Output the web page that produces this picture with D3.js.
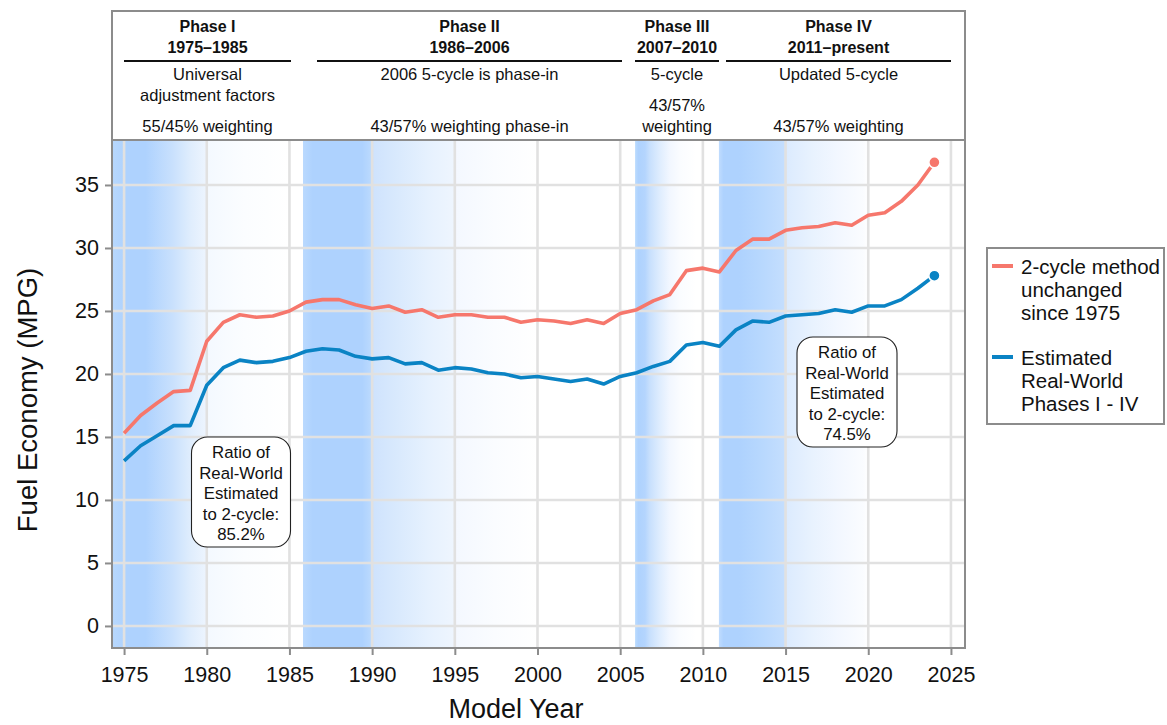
<!DOCTYPE html>
<html>
<head>
<meta charset="utf-8">
<script src="https://cdn.jsdelivr.net/npm/d3@7"></script>
<style>
  html, body { margin: 0; padding: 0; background: #ffffff; }
  svg { display: block; font-family: "Liberation Sans", Arial, Helvetica, sans-serif; }
</style>
</head>
<body>
<svg id="chart" width="1167" height="725"></svg>
<script>
// ---- Data -----------------------------------------------------------------
const modelYears = [
  1975, 1976, 1977, 1978, 1979, 1980, 1981, 1982, 1983, 1984,
  1985, 1986, 1987, 1988, 1989, 1990, 1991, 1992, 1993, 1994,
  1995, 1996, 1997, 1998, 1999, 2000, 2001, 2002, 2003, 2004,
  2005, 2006, 2007, 2008, 2009, 2010, 2011, 2012, 2013, 2014,
  2015, 2016, 2017, 2018, 2019, 2020, 2021, 2022, 2023, 2024
];

// 2-cycle method, unchanged since 1975 (MPG)
const twoCycleMpg = [
  15.3, 16.7, 17.7, 18.6, 18.7, 22.6, 24.1, 24.7, 24.5, 24.6,
  25.0, 25.7, 25.9, 25.9, 25.5, 25.2, 25.4, 24.9, 25.1, 24.5,
  24.7, 24.7, 24.5, 24.5, 24.1, 24.3, 24.2, 24.0, 24.3, 24.0,
  24.8, 25.1, 25.8, 26.3, 28.2, 28.4, 28.1, 29.8, 30.7, 30.7,
  31.4, 31.6, 31.7, 32.0, 31.8, 32.6, 32.8, 33.7, 35.0, 36.8
];

// Estimated real-world, Phases I - IV (MPG)
const realWorldMpg = [
  13.1, 14.3, 15.1, 15.9, 15.9, 19.1, 20.5, 21.1, 20.9, 21.0,
  21.3, 21.8, 22.0, 21.9, 21.4, 21.2, 21.3, 20.8, 20.9, 20.3,
  20.5, 20.4, 20.1, 20.0, 19.7, 19.8, 19.6, 19.4, 19.6, 19.2,
  19.8, 20.1, 20.6, 21.0, 22.3, 22.5, 22.2, 23.5, 24.2, 24.1,
  24.6, 24.7, 24.8, 25.1, 24.9, 25.4, 25.4, 25.9, 26.8, 27.8
];

const seriesNames = ["2-cycle method unchanged since 1975", "Estimated Real-World Phases I - IV"];

const xTickYears = [1975, 1980, 1985, 1990, 1995, 2000, 2005, 2010, 2015, 2020, 2025];
const yTickValues = [0, 5, 10, 15, 20, 25, 30, 35];

// Test-procedure phases shown in the header
const phaseTitles  = ["Phase I", "Phase II", "Phase III", "Phase IV"];
const phaseRanges  = ["1975\u20131985", "1986\u20132006", "2007\u20132010", "2011\u2013present"];
const phaseMethods = [["Universal", "adjustment factors"], ["2006 5-cycle is phase-in"], ["5-cycle"], ["Updated 5-cycle"]];
const phaseWeights = [["55/45% weighting"], ["43/57% weighting phase-in"], ["43/57%", "weighting"], ["43/57% weighting"]];

// Shaded spans of model years for each phase
const shadeFrom = [1974, 1985.82, 2005.9, 2010.97];
const shadeTo   = [1985.8, 2005.9, 2010.0, 2020.2];

const ratioLabels = [
  ["Ratio of", "Real-World", "Estimated", "to 2-cycle:", "85.2%"],
  ["Ratio of", "Real-World", "Estimated", "to 2-cycle:", "74.5%"]
];

// ---- Layout & style -------------------------------------------------------
const plot = { left: 112, right: 965, top: 140, bottom: 648 };
const headerTop = 11;
const frameColor = "#8c8c8c";
const gridColor = "#e1e1e1";
const lineColors = ["#f6776c", "#0a83c4"];
const FONT = '"Liberation Sans", Arial, Helvetica, sans-serif';

// colour profile of each shaded band: [model year, colour]
const shadeProfiles = [
  [[1974.27, "#b8d8fd"], [1975.1, "#aed2fe"], [1976.3, "#aed2fe"], [1977.9, "#c8e0fd"], [1979.0, "#dfedfd"],
   [1979.9, "#ecf4fe"], [1980.1, "#f4f9ff"], [1982.3, "#fbfdff"], [1985.0, "#ffffff"]],
  [[1985.82, "#bad9fe"], [1986.4, "#aed2fe"], [1989.4, "#aed2fe"], [1989.9, "#bad9fe"], [1990.1, "#cfe3fd"],
   [1991.4, "#d8e9fd"], [1993.4, "#e6f1fe"], [1994.9, "#eef5fe"], [1995.1, "#f4f8ff"], [1997.4, "#fafcff"], [2000.0, "#ffffff"]],
  [[2005.9, "#bcdcfe"], [2006.1, "#aed2fe"], [2006.5, "#b4d5fe"], [2006.8, "#c8e0fd"], [2007.4, "#dfedfe"],
   [2008.0, "#f2f7ff"], [2008.6, "#fafcff"], [2009.6, "#ffffff"]],
  [[2010.97, "#c0dcfe"], [2011.25, "#aed2fe"], [2012.2, "#aed2fe"], [2013.6, "#b8d8fe"], [2014.9, "#c4defe"],
   [2015.1, "#dcebfe"], [2016.6, "#e8f2fe"], [2018.1, "#f2f7ff"], [2019.7, "#fafcff"], [2020.0, "#ffffff"]]
];

// header columns: underline extents (px)
const headerCols = [
  { x0: 124, x1: 291 },
  { x0: 317, x1: 622 },
  { x0: 635, x1: 719 },
  { x0: 726, x1: 951 }
];

// ---- Scales ---------------------------------------------------------------
const x = d3.scaleLinear().domain([1974.27, 2025.85]).range([plot.left, plot.right]);
const y = d3.scaleLinear().domain([-1.75, 38.57]).range([plot.bottom, plot.top]);

const svg = d3.select("#chart");
const defs = svg.append("defs");

defs.append("clipPath").attr("id", "plot-clip")
  .append("rect")
  .attr("x", plot.left).attr("y", plot.top)
  .attr("width", plot.right - plot.left).attr("height", plot.bottom - plot.top);

// plot background
svg.append("rect")
  .attr("x", plot.left).attr("y", plot.top)
  .attr("width", plot.right - plot.left).attr("height", plot.bottom - plot.top)
  .attr("fill", "#ffffff");

// ---- Phase shading --------------------------------------------------------
const shadeG = svg.append("g").attr("clip-path", "url(#plot-clip)");
shadeFrom.forEach((from, i) => {
  const to = shadeTo[i];
  const gx0 = x(from), gx1 = x(to);
  const grad = defs.append("linearGradient")
    .attr("id", "shade-" + i)
    .attr("gradientUnits", "userSpaceOnUse")
    .attr("x1", gx0).attr("x2", gx1).attr("y1", 0).attr("y2", 0);
  shadeProfiles[i].forEach(([yr, col]) => {
    const off = Math.max(0, Math.min(1, (x(yr) - gx0) / (gx1 - gx0)));
    grad.append("stop").attr("offset", off).attr("stop-color", col);
  });
  shadeG.append("rect")
    .attr("x", gx0).attr("y", plot.top)
    .attr("width", gx1 - gx0).attr("height", plot.bottom - plot.top)
    .attr("fill", `url(#shade-${i})`);
});

// ---- Grid -----------------------------------------------------------------
const gridG = svg.append("g").attr("clip-path", "url(#plot-clip)");
gridG.selectAll("line.vgrid").data(xTickYears).join("line")
  .attr("class", "vgrid")
  .attr("x1", d => x(d)).attr("x2", d => x(d))
  .attr("y1", plot.top).attr("y2", plot.bottom)
  .attr("stroke", gridColor).attr("stroke-width", 2.6);
gridG.selectAll("line.hgrid").data(yTickValues).join("line")
  .attr("class", "hgrid")
  .attr("x1", plot.left).attr("x2", plot.right)
  .attr("y1", d => y(d)).attr("y2", d => y(d))
  .attr("stroke", gridColor).attr("stroke-width", 2.6);

// ---- Lines ----------------------------------------------------------------
const series = [twoCycleMpg, realWorldMpg];
const lineGen = d3.line().x((d, i) => x(modelYears[i])).y(d => y(d));
const linesG = svg.append("g").attr("clip-path", "url(#plot-clip)");
series.forEach((vals, s) => {
  linesG.append("path")
    .datum(vals)
    .attr("d", lineGen)
    .attr("fill", "none")
    .attr("stroke", lineColors[s])
    .attr("stroke-width", 3.6)
    .attr("stroke-linejoin", "round");
});
// latest model year marker
series.forEach((vals, s) => {
  const last = vals.length - 1;
  linesG.append("circle")
    .attr("cx", x(modelYears[last])).attr("cy", y(vals[last]))
    .attr("r", 5.6)
    .attr("fill", lineColors[s])
    .attr("stroke", "#ffffff").attr("stroke-width", 1.6);
});

// ---- Ratio call-outs ------------------------------------------------------
const callouts = [
  { cx: 241, top: 437, w: 99, h: 110 },
  { cx: 847, top: 337, w: 100, h: 110 }
];
callouts.forEach((c, i) => {
  const g = svg.append("g");
  g.append("rect")
    .attr("x", c.cx - c.w / 2).attr("y", c.top)
    .attr("width", c.w).attr("height", c.h)
    .attr("rx", 16).attr("ry", 16)
    .attr("fill", "#ffffff").attr("stroke", "#222").attr("stroke-width", 1.1);
  g.selectAll("text").data(ratioLabels[i]).join("text")
    .attr("x", c.cx)
    .attr("y", (d, k) => c.top + 21 + k * 20.6)
    .attr("text-anchor", "middle")
    .attr("font-size", 16.8)
    .attr("fill", "#111")
    .text(d => d);
});

// ---- Axes -----------------------------------------------------------------
const yAxis = d3.axisLeft(y).tickValues(yTickValues).tickSize(7).tickPadding(6).tickFormat(d3.format("d"));
const xAxis = d3.axisBottom(x).tickValues(xTickYears).tickSize(7).tickPadding(12).tickFormat(d3.format("d"));

const yAxisG = svg.append("g").attr("transform", `translate(${plot.left},0)`).call(yAxis);
const xAxisG = svg.append("g").attr("transform", `translate(0,${plot.bottom})`).call(xAxis);
[yAxisG, xAxisG].forEach(g => {
  g.select(".domain").remove();
  g.selectAll(".tick line").attr("stroke", frameColor).attr("stroke-width", 2);
  g.selectAll(".tick text").attr("fill", "#111").attr("font-size", 21.5).attr("font-family", FONT);
});

// ---- Frame ----------------------------------------------------------------
svg.append("rect")
  .attr("x", plot.left).attr("y", headerTop)
  .attr("width", plot.right - plot.left).attr("height", plot.bottom - headerTop)
  .attr("fill", "none").attr("stroke", frameColor).attr("stroke-width", 2);
svg.append("line")
  .attr("x1", plot.left).attr("x2", plot.right)
  .attr("y1", plot.top).attr("y2", plot.top)
  .attr("stroke", frameColor).attr("stroke-width", 2);

// ---- Axis titles ----------------------------------------------------------
svg.append("text")
  .attr("transform", "translate(37,400) rotate(-90)")
  .attr("text-anchor", "middle")
  .attr("font-size", 27.5).attr("fill", "#111")
  .text("Fuel Economy (MPG)");
svg.append("text")
  .attr("x", 516).attr("y", 718)
  .attr("text-anchor", "middle")
  .attr("font-size", 27).attr("fill", "#111")
  .text("Model Year");

// ---- Phase header ---------------------------------------------------------
const headG = svg.append("g");
headerCols.forEach((col, i) => {
  const cx = (col.x0 + col.x1) / 2;
  headG.append("text").attr("x", cx).attr("y", 32)
    .attr("text-anchor", "middle").attr("font-weight", "bold").attr("font-size", 16)
    .attr("fill", "#111").text(phaseTitles[i]);
  headG.append("text").attr("x", cx).attr("y", 53)
    .attr("text-anchor", "middle").attr("font-weight", "bold").attr("font-size", 16)
    .attr("fill", "#111").text(phaseRanges[i]);
  headG.append("line")
    .attr("x1", col.x0).attr("x2", col.x1).attr("y1", 61).attr("y2", 61)
    .attr("stroke", "#111").attr("stroke-width", 2);
  phaseMethods[i].forEach((t, k) => {
    headG.append("text").attr("x", cx).attr("y", 80 + k * 21)
      .attr("text-anchor", "middle").attr("font-size", 16.5)
      .attr("fill", "#111").text(t);
  });
  const w = phaseWeights[i];
  w.forEach((t, k) => {
    headG.append("text").attr("x", cx).attr("y", 132 - (w.length - 1 - k) * 21)
      .attr("text-anchor", "middle").attr("font-size", 16.5)
      .attr("fill", "#111").text(t);
  });
});

// ---- Legend ---------------------------------------------------------------
const legendG = svg.append("g");
legendG.append("rect")
  .attr("x", 987).attr("y", 248).attr("width", 177).attr("height", 176)
  .attr("fill", "#ffffff").attr("stroke", frameColor).attr("stroke-width", 2);
const legendLines = [
  ["2-cycle method", "unchanged", "since 1975"],
  ["Estimated", "Real-World", "Phases I - IV"]
];
const legendTop = [266, 357];
legendLines.forEach((lines, s) => {
  legendG.append("line")
    .attr("x1", 992).attr("x2", 1013)
    .attr("y1", legendTop[s]).attr("y2", legendTop[s])
    .attr("stroke", lineColors[s]).attr("stroke-width", 4);
  lines.forEach((t, k) => {
    legendG.append("text")
      .attr("x", 1021).attr("y", legendTop[s] + 7.5 + k * 23)
      .attr("font-size", 20.5).attr("fill", "#111")
      .text(t);
  });
});
legendG.append("title").text(seriesNames.join(" / "));
</script>
</body>
</html>
